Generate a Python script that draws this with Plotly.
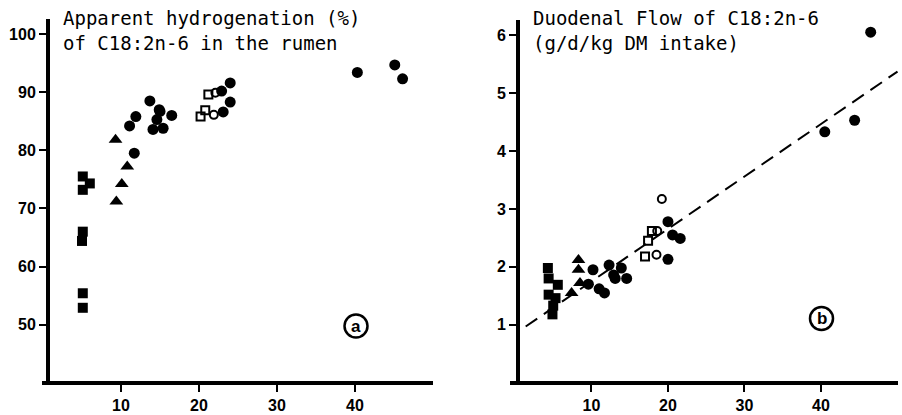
import plotly.graph_objects as go

W, H = 902, 415

# ---------------- Panel (a): apparent hydrogenation (%) ----------------
a_sq_x = [5.1, 5.1, 6.0, 5.1, 5.0, 5.1, 5.1]
a_sq_y = [75.5, 73.2, 74.3, 66.0, 64.4, 55.4, 52.9]
a_tri_x = [9.3, 10.8, 10.1, 9.4]
a_tri_y = [81.8, 77.2, 74.2, 71.2]
a_circ_x = [11.7, 11.1, 11.9, 13.7, 14.1, 15.0, 14.6, 15.4, 16.5, 14.9,
            23.1, 24.0, 24.0, 22.9, 40.3, 45.1, 46.1]
a_circ_y = [79.5, 84.2, 85.8, 88.5, 83.6, 86.7, 85.3, 83.8, 86.0, 87.0,
            86.6, 88.3, 91.6, 90.2, 93.4, 94.7, 92.3]
a_osq_x = [20.2, 20.8, 21.2]
a_osq_y = [85.8, 86.9, 89.6]
a_ocirc_x = [21.9, 22.1]
a_ocirc_y = [86.1, 89.9]

# ---------------- Panel (b): duodenal flow ----------------
b_sq_x = [4.3, 4.4, 5.6, 4.4, 5.3, 5.0, 4.9]
b_sq_y = [1.98, 1.80, 1.69, 1.52, 1.46, 1.33, 1.18]
b_tri_x = [8.3, 8.3, 8.5, 7.4]
b_tri_y = [2.12, 1.95, 1.72, 1.55]
b_circ_x = [10.2, 9.6, 11.0, 11.7, 12.3, 12.9, 13.9, 14.6, 13.1,
            20.0, 20.6, 21.6, 20.0, 40.5, 44.4, 46.5]
b_circ_y = [1.95, 1.70, 1.62, 1.55, 2.03, 1.86, 1.98, 1.80, 1.80,
            2.78, 2.55, 2.49, 2.13, 4.33, 4.53, 6.05]
b_osq_x = [17.0, 17.4, 17.9]
b_osq_y = [2.18, 2.45, 2.62]
b_ocirc_x = [18.5, 18.6, 19.2]
b_ocirc_y = [2.21, 2.62, 3.17]
b_fit_x = [1.4, 50.0]
b_fit_y = [0.97, 5.37]

a_yticks = [50, 60, 70, 80, 90, 100]
b_yticks = [1, 2, 3, 4, 5, 6]
xticks = [10, 20, 30, 40]

title_a = "Apparent hydrogenation (%)<br>of C18:2n-6 in the rumen"
title_b = "Duodenal Flow of C18:2n-6<br>(g/d/kg DM intake)"

fig = go.Figure()

def add_panel(xa, ya, sqx, sqy, trx, try_, cx, cy, osx, osy, ocx, ocy):
    kw = dict(xaxis=xa, yaxis=ya, mode="markers", showlegend=False, hoverinfo="skip")
    fig.add_trace(go.Scatter(x=sqx, y=sqy, marker=dict(symbol="square", size=10, color="black"), **kw))
    fig.add_trace(go.Scatter(x=trx, y=try_, marker=dict(symbol="triangle-up", size=12, color="black"), **kw))
    fig.add_trace(go.Scatter(x=osx, y=osy, marker=dict(symbol="square-open", size=8, color="black",
                                                         line=dict(width=2, color="black")), **kw))
    fig.add_trace(go.Scatter(x=ocx, y=ocy, marker=dict(symbol="circle-open", size=8, color="black",
                                                         line=dict(width=2, color="black")), **kw))
    fig.add_trace(go.Scatter(x=cx, y=cy, marker=dict(symbol="circle", size=11, color="black"), **kw))

add_panel("x", "y", a_sq_x, a_sq_y, a_tri_x, a_tri_y, a_circ_x, a_circ_y,
          a_osq_x, a_osq_y, a_ocirc_x, a_ocirc_y)
fig.add_trace(go.Scatter(x=b_fit_x, y=b_fit_y, xaxis="x2", yaxis="y2", mode="lines",
                         line=dict(color="black", width=2, dash="14px,8px"),
                         showlegend=False, hoverinfo="skip"))
add_panel("x2", "y2", b_sq_x, b_sq_y, b_tri_x, b_tri_y, b_circ_x, b_circ_y,
          b_osq_x, b_osq_y, b_ocirc_x, b_ocirc_y)

def bold(vals):
    return [f"<b>{v}</b>" for v in vals]

tickfont = dict(family="Liberation Sans", size=16, color="black")
common_x = dict(showgrid=False, zeroline=False, showline=True, linecolor="black", linewidth=4,
                ticks="outside", ticklen=7, tickwidth=2, tickcolor="black",
                tickvals=xticks, ticktext=bold(xticks), tickfont=tickfont)
common_y = dict(showgrid=False, zeroline=False, showline=True, linecolor="black", linewidth=4,
                ticks="outside", ticklen=7, tickwidth=2, tickcolor="black", tickfont=tickfont)

bot = 1 - 381 / H
fig.update_layout(
    width=W, height=H, margin=dict(l=0, r=0, t=0, b=0),
    paper_bgcolor="white", plot_bgcolor="white",
    xaxis=dict(domain=[42 / W, 433 / W], range=[-0.13, 50.0], anchor="y", **common_x),
    yaxis=dict(domain=[bot, 1 - 19 / H], range=[40.3, 102.6], anchor="free", position=48 / W,
               tickvals=a_yticks, ticktext=bold(a_yticks), **common_y),
    xaxis2=dict(domain=[510 / W, 898 / W], range=[-0.65, 50.07], anchor="y2", **common_x),
    yaxis2=dict(domain=[bot, 1 - 20 / H], range=[0.03, 6.26], anchor="free", position=518 / W,
                tickvals=b_yticks, ticktext=bold(b_yticks), **common_y),
)

title_font = dict(family="DejaVu Sans Mono", size=19, color="black")
fig.add_annotation(text=title_a, xref="paper", yref="paper", x=61 / W, y=1 - 5 / H,
                   xanchor="left", yanchor="top", align="left", showarrow=False, font=title_font)
fig.add_annotation(text=title_b, xref="paper", yref="paper", x=531 / W, y=1 - 5 / H,
                   xanchor="left", yanchor="top", align="left", showarrow=False, font=title_font)

# circled panel letters
for cxp, cyp, letter in [(356, 326, "a"), (821.5, 318.5, "b")]:
    r = 11.5
    fig.add_shape(type="circle", xref="paper", yref="paper",
                  x0=(cxp - r) / W, x1=(cxp + r) / W, y0=1 - (cyp + r) / H, y1=1 - (cyp - r) / H,
                  line=dict(color="black", width=2.5))
    fig.add_annotation(text=f"<b>{letter}</b>", xref="paper", yref="paper", x=cxp / W, y=1 - cyp / H,
                       xanchor="center", yanchor="middle", showarrow=False,
                       font=dict(family="Liberation Sans", size=17, color="black"))

fig.write_html("out.html", config={"displayModeBar": False},
               post_script="document.body.style.margin='0';document.body.style.overflow='hidden';")
